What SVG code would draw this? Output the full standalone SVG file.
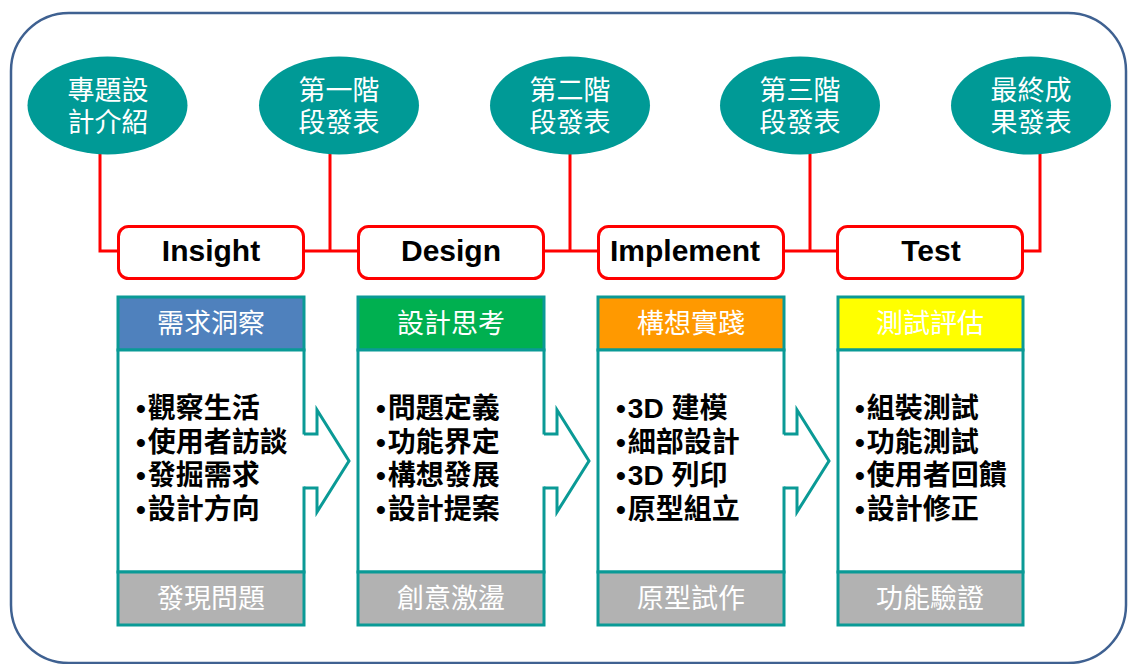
<svg xmlns="http://www.w3.org/2000/svg" width="1128" height="664" viewBox="0 0 1128 664">
<style>
.frame{fill:#fff;stroke:#3F6191;stroke-width:2.5}
.ell{fill:#009A96}
.etxt{font-family:"Noto Sans CJK TC",sans-serif;font-size:27px;fill:#fff;text-anchor:middle}
.stage{fill:#fff;stroke:#FF0000;stroke-width:3}
.stxt{font-family:"Liberation Sans",Arial,sans-serif;font-weight:bold;font-size:30px;fill:#000;text-anchor:middle}
.red{fill:none;stroke:#FF0000;stroke-width:3}
.box{stroke:#0A9A96;stroke-width:3}
.body{fill:#fff}
.foot{fill:#B2B2B2}
.htxt{font-family:"Noto Sans CJK TC",sans-serif;font-size:27px;fill:#fff;text-anchor:middle}
.btxt{font-family:"Liberation Sans","Noto Sans CJK TC",sans-serif;font-size:28px;font-weight:bold;fill:#000}
.arrow{fill:none;stroke:#0A9A96;stroke-width:3;stroke-linejoin:miter}
</style>
<rect class="frame" x="11" y="13" width="1115" height="650" rx="58"/>

<g id="connectors">
<path class="red" d="M100,154 V251 H118"/>
<path class="red" d="M330,154 V251 M304,251 H358"/>
<path class="red" d="M570,154 V251 M544,251 H598"/>
<path class="red" d="M810,154 V251 M784,251 H837"/>
<path class="red" d="M1040,154 V251 H1023"/>
</g>

<g id="m1"><ellipse class="ell" cx="107.5" cy="105.5" rx="80" ry="49"/><text class="etxt" x="108" y="100">專題設</text><text class="etxt" x="108" y="132">計介紹</text></g>
<g id="m2"><ellipse class="ell" cx="339" cy="105.5" rx="80" ry="49"/><text class="etxt" x="339" y="100">第一階</text><text class="etxt" x="339" y="132">段發表</text></g>
<g id="m3"><ellipse class="ell" cx="570" cy="105.5" rx="80" ry="49"/><text class="etxt" x="570" y="100">第二階</text><text class="etxt" x="570" y="132">段發表</text></g>
<g id="m4"><ellipse class="ell" cx="800" cy="105.5" rx="80" ry="49"/><text class="etxt" x="800" y="100">第三階</text><text class="etxt" x="800" y="132">段發表</text></g>
<g id="m5"><ellipse class="ell" cx="1031" cy="105.5" rx="80" ry="49"/><text class="etxt" x="1031" y="100">最終成</text><text class="etxt" x="1031" y="132">果發表</text></g>

<g id="s1"><rect class="stage" x="118.5" y="226.5" width="185" height="52" rx="10"/><text class="stxt" x="211" y="261">Insight</text></g>
<g id="s2"><rect class="stage" x="358.5" y="226.5" width="185" height="52" rx="10"/><text class="stxt" x="451" y="261">Design</text></g>
<g id="s3"><rect class="stage" x="598.5" y="226.5" width="185" height="52" rx="10"/><text class="stxt" x="685" y="261">Implement</text></g>
<g id="s4"><rect class="stage" x="837.5" y="226.5" width="185" height="52" rx="10"/><text class="stxt" x="931" y="261">Test</text></g>

<g id="c1">
<rect class="box" fill="#4F81BD" x="118" y="297" width="186" height="53"/>
<rect class="box body" x="118" y="350" width="186" height="222"/>
<rect class="box foot" x="118" y="572" width="186" height="53"/>
<text class="htxt" x="211" y="333">需求洞察</text>
<text class="btxt" x="136" y="418"><tspan>•</tspan><tspan dx="2">觀察生活</tspan></text>
<text class="btxt" x="136" y="452"><tspan>•</tspan><tspan dx="2">使用者訪談</tspan></text>
<text class="btxt" x="136" y="485"><tspan>•</tspan><tspan dx="2">發掘需求</tspan></text>
<text class="btxt" x="136" y="519"><tspan>•</tspan><tspan dx="2">設計方向</tspan></text>
<text class="htxt" x="211" y="608">發現問題</text>
</g>
<g id="c2">
<rect class="box" fill="#00B050" x="358" y="297" width="186" height="53"/>
<rect class="box body" x="358" y="350" width="186" height="222"/>
<rect class="box foot" x="358" y="572" width="186" height="53"/>
<text class="htxt" x="451" y="333">設計思考</text>
<text class="btxt" x="376" y="418"><tspan>•</tspan><tspan dx="2">問題定義</tspan></text>
<text class="btxt" x="376" y="452"><tspan>•</tspan><tspan dx="2">功能界定</tspan></text>
<text class="btxt" x="376" y="485"><tspan>•</tspan><tspan dx="2">構想發展</tspan></text>
<text class="btxt" x="376" y="519"><tspan>•</tspan><tspan dx="2">設計提案</tspan></text>
<text class="htxt" x="451" y="608">創意激盪</text>
</g>
<g id="c3">
<rect class="box" fill="#FF9900" x="598" y="297" width="186" height="53"/>
<rect class="box body" x="598" y="350" width="186" height="222"/>
<rect class="box foot" x="598" y="572" width="186" height="53"/>
<text class="htxt" x="691" y="333">構想實踐</text>
<text class="btxt" x="616" y="418"><tspan>•</tspan><tspan dx="2">3D 建模</tspan></text>
<text class="btxt" x="616" y="452"><tspan>•</tspan><tspan dx="2">細部設計</tspan></text>
<text class="btxt" x="616" y="485"><tspan>•</tspan><tspan dx="2">3D 列印</tspan></text>
<text class="btxt" x="616" y="519"><tspan>•</tspan><tspan dx="2">原型組立</tspan></text>
<text class="htxt" x="691" y="608">原型試作</text>
</g>
<g id="c4">
<rect class="box" fill="#FFFF00" x="838" y="297" width="185" height="53"/>
<rect class="box body" x="838" y="350" width="185" height="222"/>
<rect class="box foot" x="838" y="572" width="185" height="53"/>
<text class="htxt" x="930" y="333">測試評估</text>
<text class="btxt" x="855" y="418"><tspan>•</tspan><tspan dx="2">組裝測試</tspan></text>
<text class="btxt" x="855" y="452"><tspan>•</tspan><tspan dx="2">功能測試</tspan></text>
<text class="btxt" x="855" y="485"><tspan>•</tspan><tspan dx="2">使用者回饋</tspan></text>
<text class="btxt" x="855" y="519"><tspan>•</tspan><tspan dx="2">設計修正</tspan></text>
<text class="htxt" x="930" y="608">功能驗證</text>
</g>

<g id="arrows">
<rect x="302" y="434.5" width="14" height="52" fill="#fff"/>
<path class="arrow" d="M304,434 H317 V410 L349,461 L317,512 V488 H304"/>
<rect x="542" y="434.5" width="14" height="52" fill="#fff"/>
<path class="arrow" d="M544,434 H557 V410 L589,461 L557,512 V488 H544"/>
<rect x="782" y="434.5" width="14" height="52" fill="#fff"/>
<path class="arrow" d="M784,434 H797 V410 L829,461 L797,512 V488 H784"/>
</g>
</svg>
